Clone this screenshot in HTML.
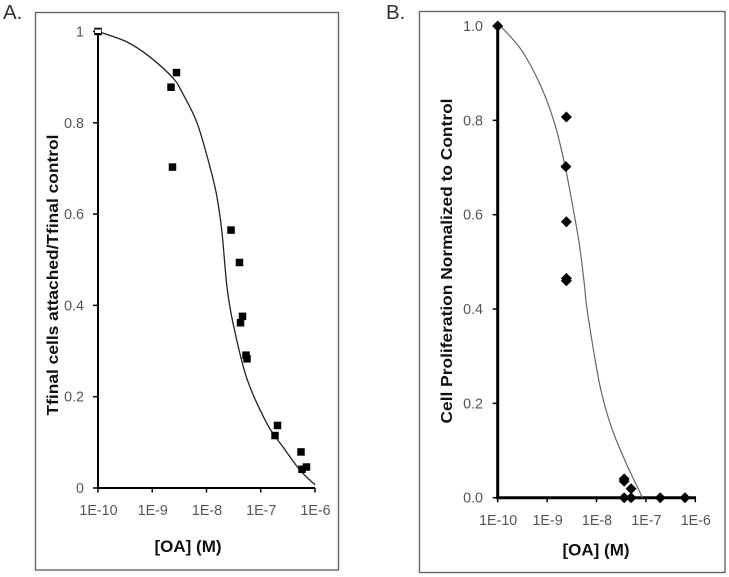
<!DOCTYPE html>
<html>
<head>
<meta charset="utf-8">
<title>OA dose response charts</title>
<style>
html,body{margin:0;padding:0;background:#fff;width:729px;height:577px;overflow:hidden}
svg{display:block;filter:blur(0.3px)}
text{font-family:"Liberation Sans",sans-serif}
.tick{font-size:14.3px;fill:#555}
.title{font-size:16px;font-weight:bold;fill:#111}
.xtitle{font-size:17px;font-weight:bold;fill:#111}
.panel{font-size:20.5px;fill:#333}
</style>
</head>
<body>
<svg id="chart" width="729" height="577" viewBox="0 0 729 577" xmlns="http://www.w3.org/2000/svg">
  <rect width="729" height="577" fill="#fff"/>
  <text class="panel" x="3" y="19">A.</text>
  <text class="panel" x="386" y="19">B.</text>
  <rect x="35.5" y="12.5" width="303" height="557.5" fill="none" stroke="#666" stroke-width="1.4"/>
  <rect x="419.5" y="11.5" width="305.5" height="561" fill="none" stroke="#666" stroke-width="1.4"/>
  <text class="title" transform="translate(58,275) rotate(-90)" text-anchor="middle" textLength="281" lengthAdjust="spacingAndGlyphs">Tfinal cells attached/Tfinal control</text>
  <text class="title" transform="translate(452,261) rotate(-90)" text-anchor="middle" textLength="325" lengthAdjust="spacingAndGlyphs">Cell Proliferation Normalized to Control</text>
  <text class="xtitle" x="188" y="552" text-anchor="middle">[OA] (M)</text>
  <text class="xtitle" x="596" y="555.5" text-anchor="middle">[OA] (M)</text>
  <g id="panel-a"></g>
  <g id="panel-b"></g>
</svg>
<script>
// Shared x tick labels (log10 molar concentration)
const xTickLogs = [-10, -9, -8, -7, -6];
const xTickLabels = ['1E-10', '1E-9', '1E-8', '1E-7', '1E-6'];

// Panel A data
const aYTicks = [0, 0.2, 0.4, 0.6, 0.8, 1];
const aYTickLabels = ['0', '0.2', '0.4', '0.6', '0.8', '1'];
const aPointLogs = [-10, -8.553, -8.654, -8.627, -7.548, -7.392, -7.336, -7.373, -7.272, -7.253, -6.691, -6.737, -6.258, -6.157, -6.24];
const aPointValues = [1, 0.91, 0.878, 0.703, 0.565, 0.494, 0.376, 0.362, 0.291, 0.283, 0.137, 0.115, 0.079, 0.046, 0.041];
const aCurveLogs = [-10, -9.465, -9.041, -8.618, -8.452, -8.175, -7.935, -7.806, -7.714, -7.622, -7.511, -7.259, -6.89, -6.59, -6.276, -6];
const aCurveValues = [1, 0.977, 0.944, 0.898, 0.867, 0.8, 0.703, 0.637, 0.559, 0.44, 0.361, 0.241, 0.142, 0.09, 0.039, 0.007];

// Panel B data
const bYTicks = [0, 0.2, 0.4, 0.6, 0.8, 1];
const bYTickLabels = ['0.0', '0.2', '0.4', '0.6', '0.8', '1.0'];
const bPointLogs = [-10, -8.61, -8.62, -8.61, -8.61, -8.61, -7.44, -7.44, -7.3, -7.44, -7.3, -6.71, -6.21];
const bPointValues = [1, 0.807, 0.702, 0.585, 0.465, 0.46, 0.04, 0.035, 0.019, 0, 0, 0, 0];
const bCurveLogs = [-10, -9.93, -9.52, -9.12, -8.85, -8.65, -8.48, -8.34, -8.24, -8.2, -8.04, -7.9, -7.7, -7.43, -7.07];
const bCurveValues = [1, 0.998, 0.949, 0.871, 0.794, 0.71, 0.617, 0.532, 0.447, 0.406, 0.3, 0.223, 0.15, 0.08, 0];

const svgNS = 'http://www.w3.org/2000/svg';

function make(tag, attrs, parent) {
  const el = document.createElementNS(svgNS, tag);
  Object.keys(attrs).forEach(function (k) { el.setAttribute(k, attrs[k]); });
  parent.appendChild(el);
  return el;
}

function smoothPath(pts) {
  let d = 'M' + pts[0][0].toFixed(2) + ' ' + pts[0][1].toFixed(2);
  for (let i = 0; i < pts.length - 1; i++) {
    const p0 = pts[Math.max(0, i - 1)], p1 = pts[i], p2 = pts[i + 1], p3 = pts[Math.min(pts.length - 1, i + 2)];
    const c1x = p1[0] + (p2[0] - p0[0]) / 6, c1y = p1[1] + (p2[1] - p0[1]) / 6;
    const c2x = p2[0] - (p3[0] - p1[0]) / 6, c2y = p2[1] - (p3[1] - p1[1]) / 6;
    d += 'C' + c1x.toFixed(2) + ' ' + c1y.toFixed(2) + ' ' + c2x.toFixed(2) + ' ' + c2y.toFixed(2) + ' ' + p2[0].toFixed(2) + ' ' + p2[1].toFixed(2);
  }
  return d;
}

function drawAxes(g, sx, sy, layout, yTicks, yLabels) {
  const axisY = sy(0), axisX = sx(-10);
  const yAxis = make('line', { x1: axisX, x2: axisX, y1: sy(1), y2: axisY, stroke: '#000', 'stroke-width': layout.axisWidth }, g);
  
  
  const xAxis = make('line', { x1: axisX - layout.axisWidth / 2, x2: layout.xEnd, y1: axisY, y2: axisY, stroke: '#000', 'stroke-width': layout.axisWidth }, g);
  
  
  yTicks.forEach(function (v, i) {
    const tick = make('line', { x1: axisX - 5, x2: axisX, y1: sy(v), y2: sy(v), stroke: '#000', 'stroke-width': 1.5 }, g);
    
    
    const label = make('text', { x: layout.yLabelRight, y: sy(v) + 5, 'text-anchor': 'end', class: 'tick' }, g);
    label.textContent = yLabels[i];
    
    
  });
  xTickLogs.forEach(function (v, i) {
    const tick = make('line', { x1: sx(v), x2: sx(v), y1: axisY, y2: axisY + 4.5, stroke: '#000', 'stroke-width': 1.5 }, g);
    
    
    const label = make('text', { x: sx(v) + 0.5, y: layout.xLabelBase, 'text-anchor': 'middle', class: 'tick' }, g);
    label.textContent = xTickLabels[i];
    
    
  });
}

// Panel A
const aG = document.getElementById('panel-a');
const aX = function (v) { return 98 + (v + 10) * 54.25; };
const aY = function (v) { return 488 - v * 456.5; };
drawAxes(aG, aX, aY, { axisWidth: 2, xEnd: 315, yLabelRight: 84, xLabelBase: 515 }, aYTicks, aYTickLabels);
const aCurve = make('path', { d: smoothPath(aCurveLogs.map(function (v, i) { return [aX(v), aY(aCurveValues[i])]; })), fill: 'none', stroke: '#222', 'stroke-width': 1.3 }, aG);


aPointLogs.forEach(function (v, i) {
  const s = 7.5;
  const pt = make('rect', { x: aX(v) - s / 2, y: aY(aPointValues[i]) - s / 2, width: s, height: s, fill: '#000' }, aG);
  
  
});
const aCap = make('rect', { x: aX(-10) - 3, y: aY(1) - 2, width: 6, height: 3.5, fill: '#fff' }, aG);



// Panel B
const bG = document.getElementById('panel-b');
const bX = function (v) { return 497.7 + (v + 10) * 49.4; };
const bY = function (v) { return 497.7 - v * 471.7; };
drawAxes(bG, bX, bY, { axisWidth: 3, xEnd: 696, yLabelRight: 483, xLabelBase: 525 }, bYTicks, bYTickLabels);
const bCurve = make('path', { d: smoothPath(bCurveLogs.map(function (v, i) { return [bX(v), bY(bCurveValues[i])]; })), fill: 'none', stroke: '#666', 'stroke-width': 1.2 }, bG);


bPointLogs.forEach(function (v, i) {
  const r = 5.5;
  const cx = bX(v), cy = bY(bPointValues[i]);
  const pt = make('polygon', { points: [cx, cy - r, cx + r, cy, cx, cy + r, cx - r, cy].join(' '), fill: '#000' }, bG);
  
  
});
</script>
</body>
</html>
